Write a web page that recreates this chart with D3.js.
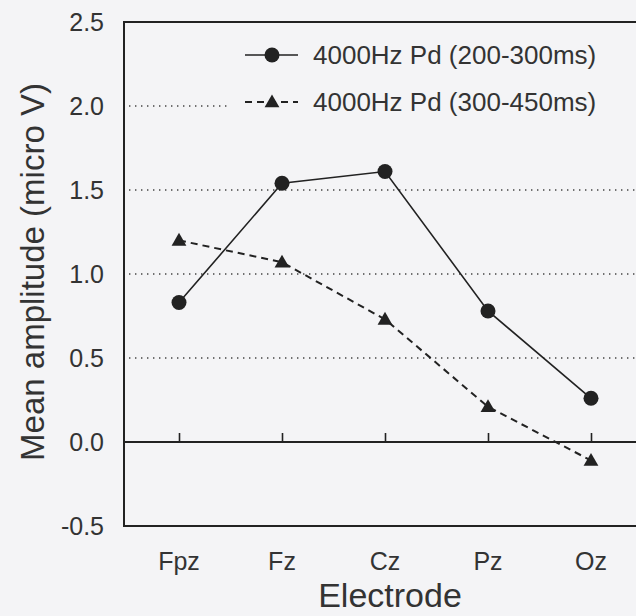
<!DOCTYPE html>
<html>
<head>
<meta charset="utf-8">
<script src="https://cdn.jsdelivr.net/npm/d3@7"></script>
<style>
  html, body { margin: 0; padding: 0; background: #f4f4f6; }
  svg { display: block; }
  text { font-family: "Liberation Sans", Arial, Helvetica, sans-serif; fill: #333; }
</style>
</head>
<body>
<svg id="chart" width="636" height="616"></svg>
<script>
// Electrode sites along the midline
const electrodes = ["Fpz", "Fz", "Cz", "Pz", "Oz"];

// Mean Pd amplitude (micro V) for the two latency windows
const pdEarly = [0.83, 1.54, 1.61, 0.78, 0.26];   // 200-300 ms
const pdLate  = [1.20, 1.07, 0.73, 0.21, -0.11];  // 300-450 ms

const seriesNames = ["4000Hz Pd (200-300ms)", "4000Hz Pd (300-450ms)"];
const yTicks = [-0.5, 0.0, 0.5, 1.0, 1.5, 2.0, 2.5];
const gridValues = [0.5, 1.0, 1.5];

const svg = d3.select("#chart");
const ink = "#222";

const frame = { left: 124, right: 650, top: 22, bottom: 526 };

const y = d3.scaleLinear().domain([-0.5, 2.5]).range([frame.bottom, frame.top]);
const x = d3.scalePoint().domain(electrodes).range([179, 591]);

// dotted reference lines
svg.append("g").selectAll("line").data(gridValues).join("line")
  .attr("x1", frame.left + 5).attr("x2", frame.right)
  .attr("y1", d => y(d)).attr("y2", d => y(d))
  .attr("stroke", "#444").attr("stroke-width", 1.4)
  .attr("stroke-dasharray", "1.4,4.6");

// the 2.0 line stops short of the legend
svg.append("line")
  .attr("x1", frame.left + 5).attr("x2", 228)
  .attr("y1", y(2.0)).attr("y2", y(2.0))
  .attr("stroke", "#444").attr("stroke-width", 1.4)
  .attr("stroke-dasharray", "1.4,4.6");

// frame: left, top and bottom edges
svg.append("path")
  .attr("d", `M${frame.right},${frame.top}H${frame.left}V${frame.bottom}H${frame.right}`)
  .attr("fill", "none").attr("stroke", ink).attr("stroke-width", 2);

// y axis tick labels (no tick marks)
const yAxis = d3.axisLeft(y).tickValues(yTicks).tickSize(0).tickPadding(20)
  .tickFormat(d => d < 0 ? "-" + Math.abs(d).toFixed(1) : d.toFixed(1));
const gy = svg.append("g").attr("transform", `translate(${frame.left},0)`).call(yAxis);
gy.select(".domain").remove();
gy.selectAll("text").attr("font-size", 25).attr("fill", "#333")
  .attr("font-family", "Liberation Sans, Arial, sans-serif");

// zero line with electrode ticks pointing up
const xAxis = d3.axisTop(x).tickSize(9).tickFormat("");
const gx = svg.append("g").attr("transform", `translate(0,${y(0)})`).call(xAxis);
gx.select(".domain").remove();
gx.selectAll("line").attr("stroke", ink).attr("stroke-width", 1.6);
svg.append("line")
  .attr("x1", frame.left).attr("x2", frame.right)
  .attr("y1", y(0)).attr("y2", y(0))
  .attr("stroke", ink).attr("stroke-width", 2);

// electrode labels below the frame
svg.append("g").selectAll("text").data(electrodes).join("text")
  .attr("x", d => x(d)).attr("y", 570)
  .attr("text-anchor", "middle").attr("font-size", 25)
  .text(d => d);

// axis titles
svg.append("text")
  .attr("x", 390).attr("y", 607)
  .attr("text-anchor", "middle").attr("font-size", 34)
  .text("Electrode");
svg.append("text")
  .attr("transform", "translate(44,272) rotate(-90)")
  .attr("text-anchor", "middle").attr("font-size", 33)
  .text("Mean amplitude (micro V)");

// series lines
const line = d3.line().x((d, i) => x(electrodes[i])).y(d => y(d));
svg.append("path").datum(pdEarly).attr("d", line)
  .attr("fill", "none").attr("stroke", ink).attr("stroke-width", 1.6);
svg.append("path").datum(pdLate).attr("d", line)
  .attr("fill", "none").attr("stroke", ink).attr("stroke-width", 2)
  .attr("stroke-dasharray", "7,5");

// markers
const tri = d3.symbol().type(d3.symbolTriangle).size(95);
svg.append("g").selectAll("circle").data(pdEarly).join("circle")
  .attr("cx", (d, i) => x(electrodes[i])).attr("cy", d => y(d))
  .attr("r", 7.5).attr("fill", ink);
svg.append("g").selectAll("path").data(pdLate).join("path")
  .attr("transform", (d, i) => `translate(${x(electrodes[i])},${y(d) + 1})`)
  .attr("d", tri).attr("fill", ink);

// legend
const legend = svg.append("g");
const legendRows = [
  { name: seriesNames[0], y: 55, dash: null, mark: "circle" },
  { name: seriesNames[1], y: 102, dash: "7,5", mark: "triangle" }
];
legendRows.forEach(r => {
  legend.append("line")
    .attr("x1", 245).attr("x2", 298).attr("y1", r.y).attr("y2", r.y)
    .attr("stroke", ink).attr("stroke-width", r.dash ? 2 : 1.6)
    .attr("stroke-dasharray", r.dash);
  if (r.mark === "circle") {
    legend.append("circle").attr("cx", 272).attr("cy", r.y).attr("r", 7.5).attr("fill", ink);
  } else {
    legend.append("path").attr("transform", `translate(272,${r.y + 1})`)
      .attr("d", tri).attr("fill", ink);
  }
  legend.append("text")
    .attr("x", 313).attr("y", r.y).attr("dy", "0.35em")
    .attr("font-size", 26)
    .text(r.name);
});
</script>
</body>
</html>
